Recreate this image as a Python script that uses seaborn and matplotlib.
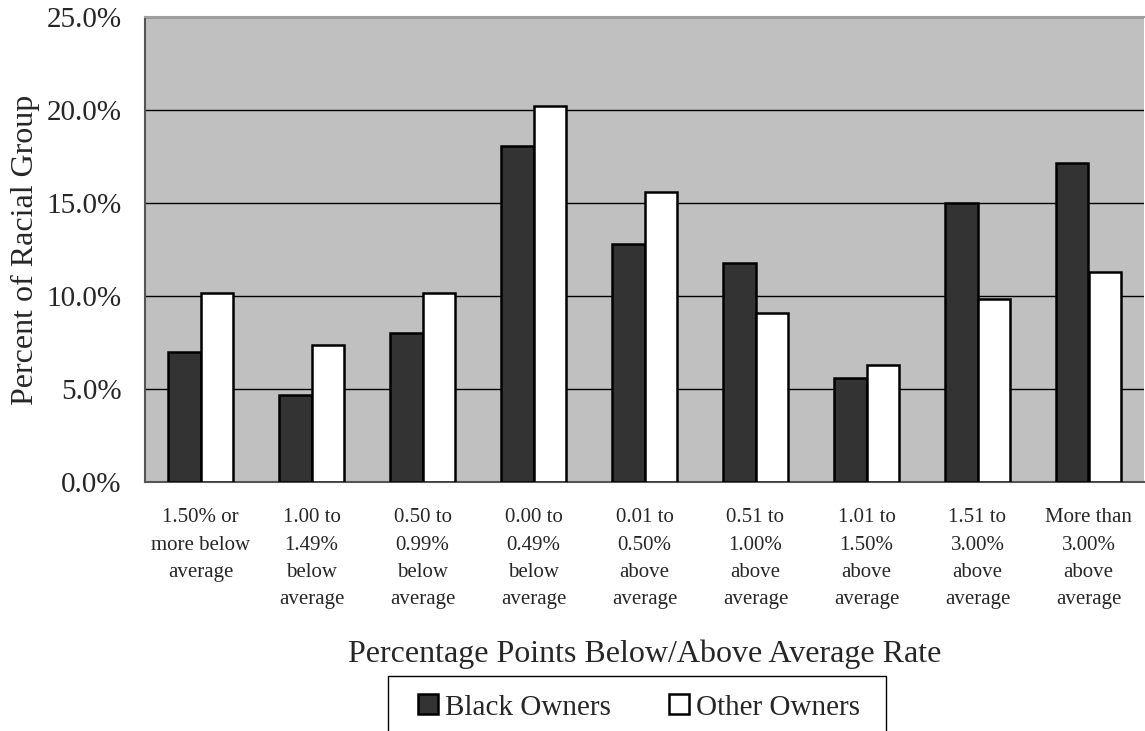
import matplotlib
matplotlib.use("Agg")
import matplotlib.pyplot as plt
from matplotlib.patches import Rectangle
import seaborn as sns
import pandas as pd

# Rate spread buckets relative to the average rate
categories = [
    "1.50% or\nmore below\naverage",
    "1.00 to\n1.49%\nbelow\naverage",
    "0.50 to\n0.99%\nbelow\naverage",
    "0.00 to\n0.49%\nbelow\naverage",
    "0.01 to\n0.50%\nabove\naverage",
    "0.51 to\n1.00%\nabove\naverage",
    "1.01 to\n1.50%\nabove\naverage",
    "1.51 to\n3.00%\nabove\naverage",
    "More than\n3.00%\nabove\naverage",
]
series = ["Black Owners", "Other Owners"]
black_owners = [7.0, 4.7, 8.0, 18.05, 12.8, 11.75, 5.6, 15.0, 17.15]
other_owners = [10.15, 7.35, 10.15, 20.2, 15.6, 9.1, 6.3, 9.85, 11.3]
y_ticks = [0, 5, 10, 15, 20, 25]
y_tick_labels = ["0.0%", "5.0%", "10.0%", "15.0%", "20.0%", "25.0%"]

df = pd.DataFrame({
    "category": categories * 2,
    "value": black_owners + other_owners,
    "series": [series[0]] * len(categories) + [series[1]] * len(categories),
})

sns.set_style("white")
plt.rcParams["font.family"] = ["Liberation Serif", "DejaVu Serif"]

W, H = 1145, 731
fig = plt.figure(figsize=(W / 100, H / 100), dpi=100)
ax = fig.add_axes([145 / W, 1 - 482 / H, (1144 - 145) / W, (482 - 17) / H])
ax.set_facecolor("#c0c0c0")

sns.barplot(
    data=df, x="category", y="value", hue="series", order=categories,
    hue_order=series,
    palette={"Black Owners": "#333333", "Other Owners": "#ffffff"},
    edgecolor="black", linewidth=1.8, width=0.585, gap=0, ax=ax,
    zorder=3,
)

handles, labels = ax.get_legend_handles_labels()
if ax.get_legend() is not None:
    ax.get_legend().remove()

ax.set_xlim(-0.5, len(categories) - 0.5)
ax.set_ylim(0, 25)
ax.set_yticks(y_ticks)
ax.set_yticklabels(y_tick_labels, fontsize=21)
ax.yaxis.grid(True, color="black", linewidth=1.0, zorder=1)
ax.set_axisbelow(True)

ax.set_xticks(range(len(categories)))
ax.set_xticklabels(categories, fontsize=15, linespacing=1.59, va="top")
ax.set_xticks([i - 0.5 for i in range(len(categories) + 1)], minor=True)
ax.tick_params(axis="x", which="major", length=0, pad=19)
ax.tick_params(axis="x", which="minor", length=7, width=1.2,
               color="#555555", direction="out")
ax.tick_params(axis="y", which="major", length=8, width=1.2,
               color="#555555", direction="out", pad=9)

for side in ("left", "bottom"):
    ax.spines[side].set_color("#555555")
    ax.spines[side].set_linewidth(1.5)
ax.spines["top"].set_color("#a0a0a0")
ax.spines["top"].set_linewidth(1.5)
ax.spines["right"].set_visible(False)

ax.set_xlabel("Percentage Points Below/Above Average Rate", fontsize=23,
              labelpad=22)
ax.set_ylabel("Percent of Racial Group", fontsize=23, labelpad=4.5)

# Legend entries, with a plain frame around them that runs off the bottom edge
leg = fig.legend(
    handles, labels, loc="upper left",
    bbox_to_anchor=(395 / W, 1 - 671 / H), bbox_transform=fig.transFigure,
    ncol=2, fontsize=21, frameon=False,
    handlelength=0.68, handleheight=0.68, handletextpad=0.24,
    columnspacing=2.0, borderpad=0.8, borderaxespad=0,
)
frame = Rectangle((388 / W, -0.05), (886 - 388) / W, (731 - 676) / H + 0.05,
                  transform=fig.transFigure, fill=False, edgecolor="black",
                  linewidth=1.0)
fig.patches.append(frame)

fig.savefig("out.png", dpi=100)
